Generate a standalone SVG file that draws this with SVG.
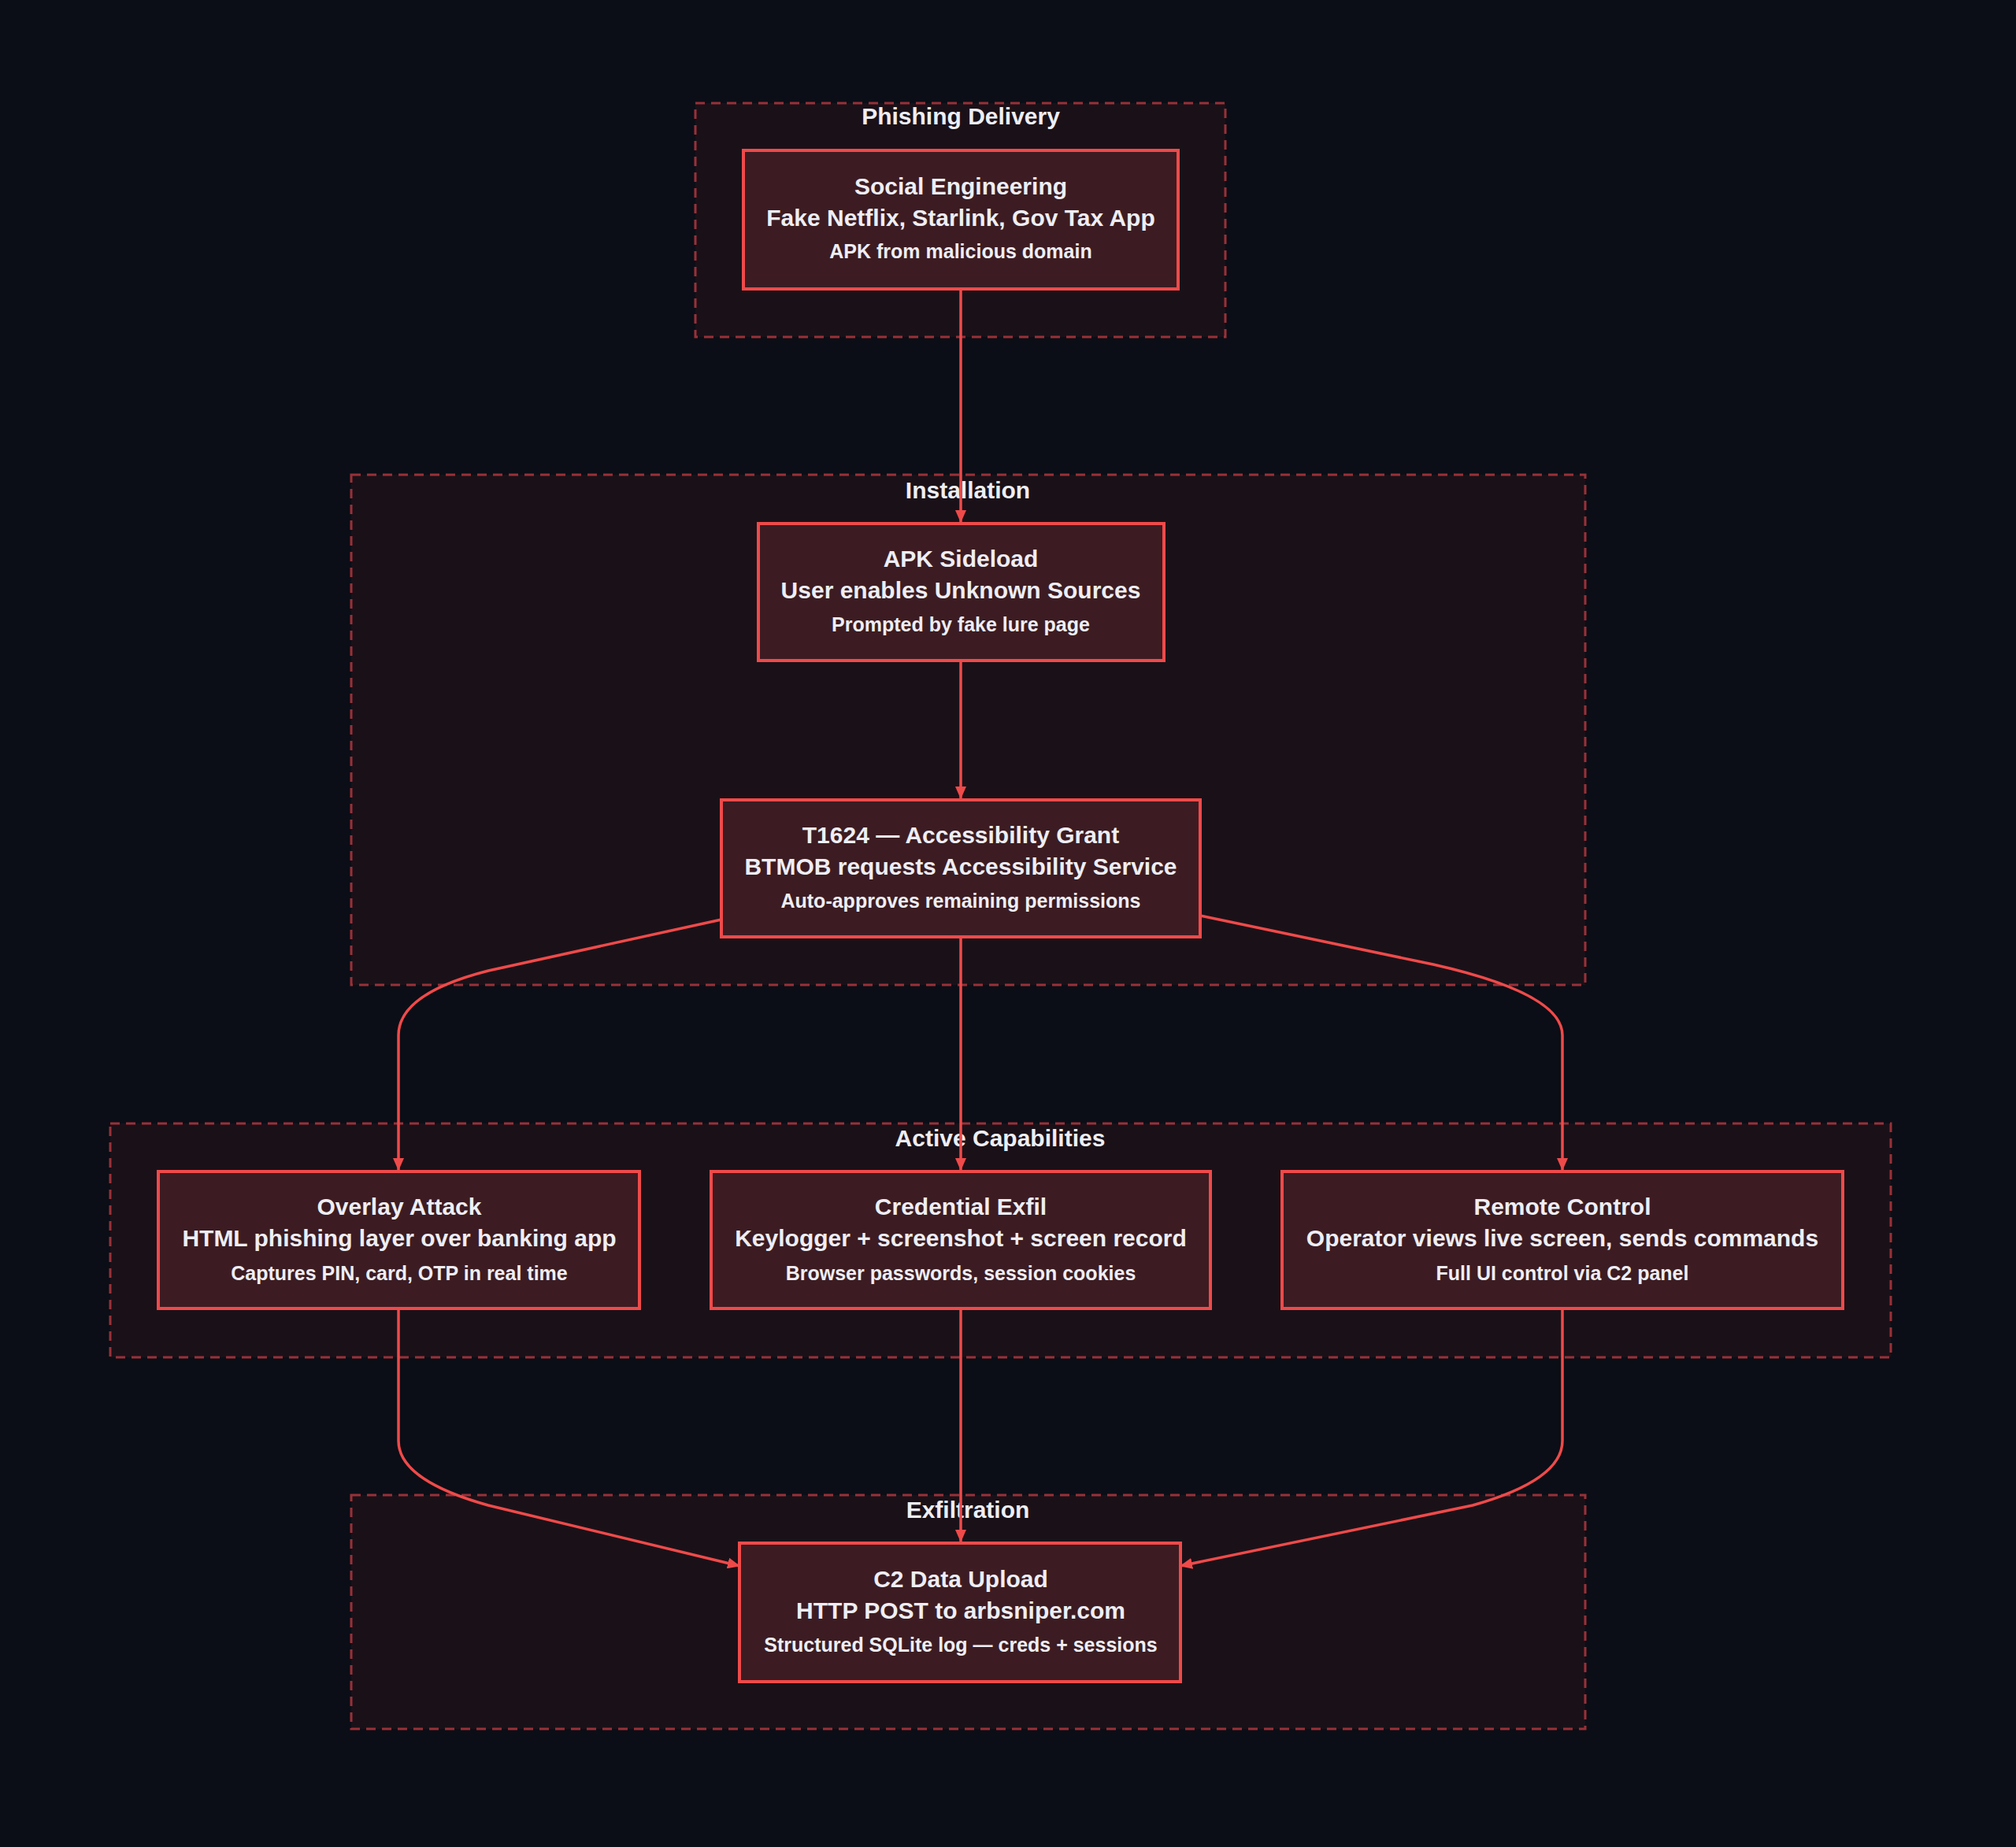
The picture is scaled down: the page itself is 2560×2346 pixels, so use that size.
<svg xmlns="http://www.w3.org/2000/svg" width="2560" height="2346" viewBox="0 0 2560 2346">
<defs>
<style>
.cl{fill:#1a1118;stroke:#9a3038;stroke-width:3;stroke-dasharray:12 8}
.nd{fill:#3c1c22;stroke:#ef4a4a;stroke-width:4}
.t{font-family:"Liberation Sans",Arial,sans-serif;font-weight:bold;fill:#eeeef4;text-anchor:middle}
.h{font-size:30px}.s{font-size:25px}.c{font-size:30px}
.e{fill:none;stroke:#ef4a4a;stroke-width:3.5;marker-end:url(#a)}
</style>
<marker id="a" viewBox="0 0 16 14" refX="15" refY="7" markerWidth="16" markerHeight="14" orient="auto" markerUnits="userSpaceOnUse"><path d="M0,0 L16,7 L0,14 z" fill="#ef4a4a"/></marker>
</defs>
<rect width="2560" height="2346" fill="#0b0e16"/>
<g id="clusters">
<g id="c-phish"><rect class="cl" x="883" y="131" width="673" height="297"/><text class="t c" x="1220" y="158">Phishing Delivery</text></g>
<g id="c-install"><rect class="cl" x="446" y="603" width="1567" height="648"/><text class="t c" x="1229" y="633">Installation</text></g>
<g id="c-active"><rect class="cl" x="140" y="1427" width="2261" height="297"/><text class="t c" x="1270" y="1456">Active Capabilities</text></g>
<g id="c-exfil"><rect class="cl" x="446" y="1899" width="1567" height="297"/><text class="t c" x="1229" y="1928">Exfiltration</text></g>
</g>
<g id="edges">
<path class="e" d="M1220,367 L1220,663"/>
<path class="e" d="M1220,839 L1220,1014"/>
<path class="e" d="M1220,1190 L1220,1486"/>
<path class="e" d="M916,1168 L620,1233 Q506,1262 506,1315 L506,1486"/>
<path class="e" d="M1524,1163 L1820,1225 Q1984,1262 1984,1315 L1984,1486"/>
<path class="e" d="M1220,1662 L1220,1958"/>
<path class="e" d="M506,1662 L506,1830 Q506,1880 620,1912 L939,1989"/>
<path class="e" d="M1984,1662 L1984,1830 Q1984,1880 1870,1912 L1499,1989"/>
</g>
<g id="n-se"><rect class="nd" x="944" y="191" width="552" height="176"/>
<text class="t h" x="1220" y="247">Social Engineering</text><text class="t h" x="1220" y="287">Fake Netflix, Starlink, Gov Tax App</text><text class="t s" x="1220" y="328">APK from malicious domain</text></g>
<g id="n-apk"><rect class="nd" x="963" y="665" width="515" height="174"/>
<text class="t h" x="1220" y="720">APK Sideload</text><text class="t h" x="1220" y="760">User enables Unknown Sources</text><text class="t s" x="1220" y="802">Prompted by fake lure page</text></g>
<g id="n-t1624"><rect class="nd" x="916" y="1016" width="608" height="174"/>
<text class="t h" x="1220" y="1071">T1624 — Accessibility Grant</text><text class="t h" x="1220" y="1111">BTMOB requests Accessibility Service</text><text class="t s" x="1220" y="1153">Auto-approves remaining permissions</text></g>
<g id="n-overlay"><rect class="nd" x="201" y="1488" width="611" height="174"/>
<text class="t h" x="507" y="1543">Overlay Attack</text><text class="t h" x="507" y="1583">HTML phishing layer over banking app</text><text class="t s" x="507" y="1626">Captures PIN, card, OTP in real time</text></g>
<g id="n-cred"><rect class="nd" x="903" y="1488" width="634" height="174"/>
<text class="t h" x="1220" y="1543">Credential Exfil</text><text class="t h" x="1220" y="1583">Keylogger + screenshot + screen record</text><text class="t s" x="1220" y="1626">Browser passwords, session cookies</text></g>
<g id="n-remote"><rect class="nd" x="1628" y="1488" width="712" height="174"/>
<text class="t h" x="1984" y="1543">Remote Control</text><text class="t h" x="1984" y="1583">Operator views live screen, sends commands</text><text class="t s" x="1984" y="1626">Full UI control via C2 panel</text></g>
<g id="n-c2"><rect class="nd" x="939" y="1960" width="560" height="176"/>
<text class="t h" x="1220" y="2016">C2 Data Upload</text><text class="t h" x="1220" y="2056">HTTP POST to arbsniper.com</text><text class="t s" x="1220" y="2098">Structured SQLite log — creds + sessions</text></g>
</svg>
